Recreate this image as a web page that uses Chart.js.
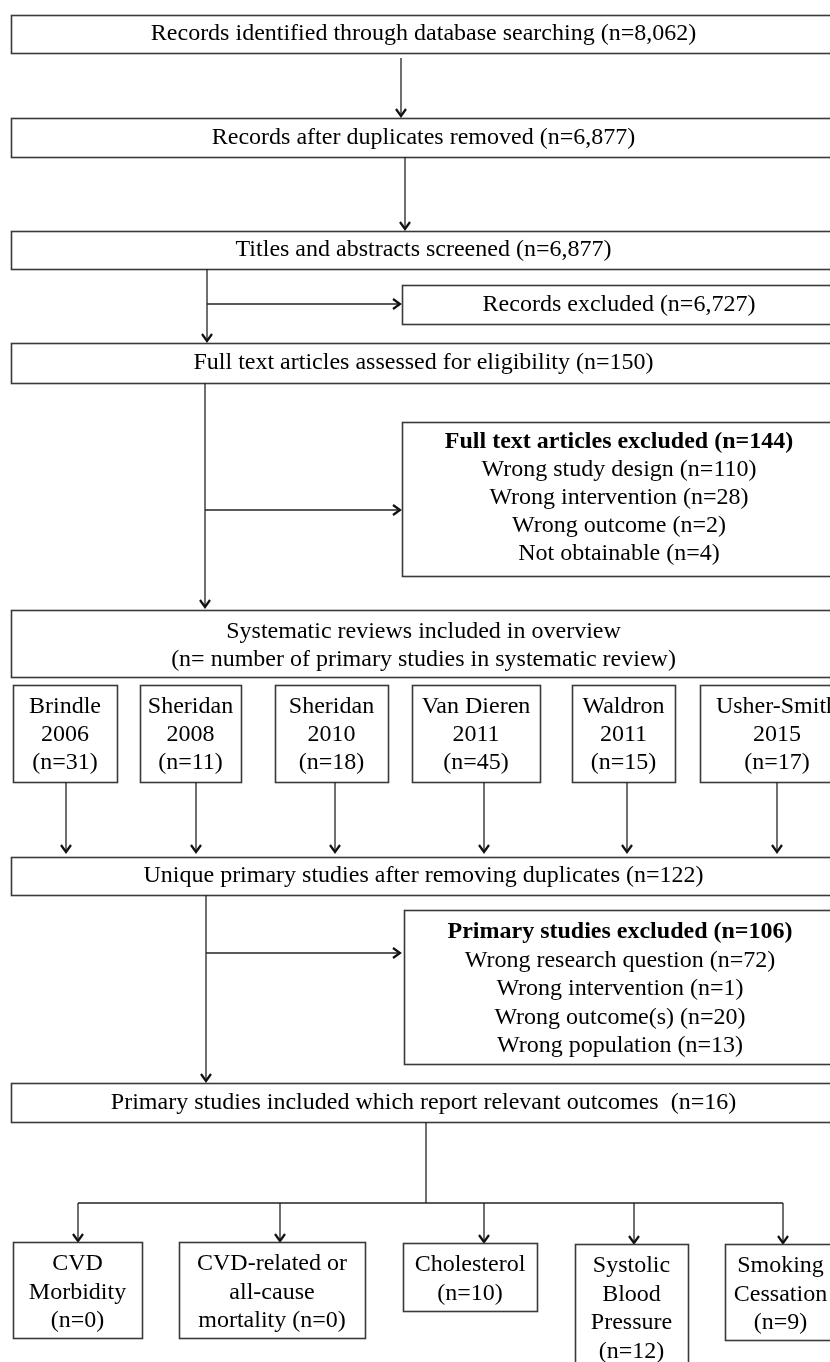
<!DOCTYPE html>
<html>
<head>
<meta charset="utf-8">
<script src="https://cdn.jsdelivr.net/npm/chart.js@4.4.1/dist/chart.umd.min.js"></script>
<style>
html,body{margin:0;padding:0;background:#fff;overflow:hidden;}
#wrap{width:830px;height:1362px;position:relative;}
</style>
</head>
<body>
<div id="wrap"><canvas id="c" width="830" height="1362"></canvas></div>
<script>
// ---------- DATA ----------
const stageLabels = [
  "Records identified through database searching",
  "Records after duplicates removed",
  "Titles and abstracts screened",
  "Full text articles assessed for eligibility",
  "Unique primary studies after removing duplicates",
  "Primary studies included which report relevant outcomes "
];
const stageCounts = [8062, 6877, 6877, 150, 122, 16];

const recordsExcludedLabel = "Records excluded";
const recordsExcludedCount = 6727;

const fullTextExclTitle = "Full text articles excluded";
const fullTextExclTotal = 144;
const fullTextExclReasons = ["Wrong study design", "Wrong intervention", "Wrong outcome", "Not obtainable"];
const fullTextExclCounts = [110, 28, 2, 4];

const reviewsTitle = ["Systematic reviews included in overview", "(n= number of primary studies in systematic review)"];
const reviewAuthors = ["Brindle", "Sheridan", "Sheridan", "Van Dieren", "Waldron", "Usher-Smith"];
const reviewYears = [2006, 2008, 2010, 2011, 2011, 2015];
const reviewCounts = [31, 11, 18, 45, 15, 17];

const primaryExclTitle = "Primary studies excluded";
const primaryExclTotal = 106;
const primaryExclReasons = ["Wrong research question", "Wrong intervention", "Wrong outcome(s)", "Wrong population"];
const primaryExclCounts = [72, 1, 20, 13];

const outcomeLabels = [["CVD", "Morbidity"], ["CVD-related or", "all-cause", "mortality"], ["Cholesterol"], ["Systolic", "Blood", "Pressure"], ["Smoking", "Cessation"]];
const outcomeCounts = [0, 0, 10, 12, 9];

// ---------- LAYOUT (positions in chart units) ----------
const L = {
  wideL: 11, wideR: 836, sideR: 836,
  stageBoxes: [[15,53],[118,157],[231,269],[343,383],[857,895],[1083,1122]],
  reBox: [402, 285, 324],
  feBox: [402, 422, 576],
  srBox: [610, 677],
  revBoxes: [[13,117],[140,241],[275,388],[412,540],[572,675],[700,854]],
  revTop: 685, revBot: 782, revArrowX: [66,196,335,484,627,777], revArrowTip: 853,
  peBox: [404, 910, 1064],
  outBoxes: [[13,142,1242,1338],[179,365,1242,1338],[403,537,1243,1311],[575,688,1244,1380],[725,836,1244,1340]],
  outArrowX: [78,280,484,634,783],
  inlineCount: [false, true, false, false, false]
};

const fmt = n => n.toLocaleString('en-US');
const FONT = '"Liberation Serif", "Times New Roman", serif';

const flowPlugin = {
  id: 'flow',
  afterDraw(chart) {
    const ctx = chart.ctx;
    const xs = chart.scales.x, ys = chart.scales.y;
    const X = v => xs.getPixelForValue(v);
    const Y = v => ys.getPixelForValue(v);
    ctx.save();
    ctx.lineCap = 'butt'; ctx.lineJoin = 'miter';
    function box(l, t, r, b) {
      ctx.strokeStyle = '#3a3a3a'; ctx.lineWidth = 1.6;
      ctx.strokeRect(Math.round(X(l)) + 0.5, Math.round(Y(t)) + 0.5, Math.round(X(r) - X(l)), Math.round(Y(b) - Y(t)));
    }
    function line(x1, y1, x2, y2) {
      ctx.strokeStyle = '#222'; ctx.lineWidth = 1.3;
      ctx.beginPath(); ctx.moveTo(X(x1), Y(y1)); ctx.lineTo(X(x2), Y(y2)); ctx.stroke();
    }
    function arrowDown(x, y1, y2) {
      line(x, y1, x, y2 - 1);
      ctx.strokeStyle = '#111'; ctx.lineWidth = 2.2; ctx.beginPath();
      ctx.moveTo(X(x) - 5, Y(y2) - 8); ctx.lineTo(X(x), Y(y2) - 1); ctx.lineTo(X(x) + 5, Y(y2) - 8); ctx.stroke();
    }
    function arrowRight(y, x1, x2) {
      line(x1, y, x2 - 1, y);
      ctx.strokeStyle = '#111'; ctx.lineWidth = 2.2; ctx.beginPath();
      ctx.moveTo(X(x2) - 8, Y(y) - 5); ctx.lineTo(X(x2) - 1, Y(y)); ctx.lineTo(X(x2) - 8, Y(y) + 5); ctx.stroke();
    }
    function text(s, x, y, bold) {
      ctx.fillStyle = '#000';
      ctx.font = (bold ? 'bold ' : '') + '24px ' + FONT;
      ctx.textAlign = 'center'; ctx.textBaseline = 'middle';
      ctx.fillText(s, X(x), Y(y));
    }
    const cx = (a, b) => (a + b) / 2;

    // main stage boxes
    const wideCx = cx(L.wideL, L.wideR);
    L.stageBoxes.forEach(([t, b], i) => {
      box(L.wideL, t, L.wideR, b);
      text(stageLabels[i] + ' (n=' + fmt(stageCounts[i]) + ')', wideCx, cx(t, b));
    });

    // arrows between top stages
    arrowDown(401, 58, 117);
    arrowDown(405, 157, 230);

    // records excluded
    arrowDown(207, 269, 342);
    arrowRight(304, 207, 401);
    box(L.reBox[0], L.reBox[1], L.sideR, L.reBox[2]);
    text(recordsExcludedLabel + ' (n=' + fmt(recordsExcludedCount) + ')', cx(L.reBox[0], L.sideR), cx(L.reBox[1], L.reBox[2]));

    // full-text excluded
    arrowDown(205, 383, 608);
    arrowRight(510, 205, 401);
    box(L.feBox[0], L.feBox[1], L.sideR, L.feBox[2]);
    const feCx = cx(L.feBox[0], L.sideR);
    text(fullTextExclTitle + ' (n=' + fullTextExclTotal + ')', feCx, L.feBox[1] + 20, true);
    fullTextExclReasons.forEach((r, i) => text(r + ' (n=' + fullTextExclCounts[i] + ')', feCx, L.feBox[1] + 20 + 28 * (i + 1)));

    // systematic reviews
    box(L.wideL, L.srBox[0], L.wideR, L.srBox[1]);
    reviewsTitle.forEach((s, i) => text(s, wideCx, L.srBox[0] + 22 + 28 * i));
    reviewAuthors.forEach((a, i) => {
      const [l, r] = L.revBoxes[i];
      box(l, L.revTop, r, L.revBot);
      const c = cx(l, r);
      text(a, c, L.revTop + 22);
      text(String(reviewYears[i]), c, L.revTop + 50);
      text('(n=' + reviewCounts[i] + ')', c, L.revTop + 78);
      arrowDown(L.revArrowX[i], L.revBot, L.revArrowTip);
    });

    // primary excluded
    arrowDown(206, 895, 1082);
    arrowRight(953, 206, 401);
    box(L.peBox[0], L.peBox[1], L.sideR, L.peBox[2]);
    const peCx = cx(L.peBox[0], L.sideR);
    text(primaryExclTitle + ' (n=' + primaryExclTotal + ')', peCx, L.peBox[1] + 22, true);
    primaryExclReasons.forEach((r, i) => text(r + ' (n=' + primaryExclCounts[i] + ')', peCx, L.peBox[1] + 22 + 28.5 * (i + 1)));

    // outcomes
    line(426, 1122, 426, 1203);
    line(L.outArrowX[0], 1203, L.outArrowX[L.outArrowX.length - 1], 1203);
    outcomeLabels.forEach((lines, i) => {
      const [l, r, t, b] = L.outBoxes[i];
      arrowDown(L.outArrowX[i], 1203, t);
      box(l, t, r, b);
      const c = cx(l, r);
      const all = lines.slice();
      if (L.inlineCount[i]) all[all.length - 1] += ' (n=' + outcomeCounts[i] + ')';
      else all.push('(n=' + outcomeCounts[i] + ')');
      all.forEach((s, k) => text(s, c, t + 22 + 28.5 * k));
    });
    ctx.restore();
  }
};

new Chart(document.getElementById('c'), {
  type: 'scatter',
  data: { datasets: [{ data: [], pointRadius: 0 }] },
  options: {
    responsive: false,
    animation: false,
    devicePixelRatio: 1,
    layout: { padding: 0 },
    plugins: { legend: { display: false }, tooltip: { enabled: false } },
    scales: {
      x: { type: 'linear', min: 0, max: 830, display: false },
      y: { type: 'linear', min: 0, max: 1362, reverse: true, display: false }
    }
  },
  plugins: [flowPlugin]
});
</script>
</body>
</html>
